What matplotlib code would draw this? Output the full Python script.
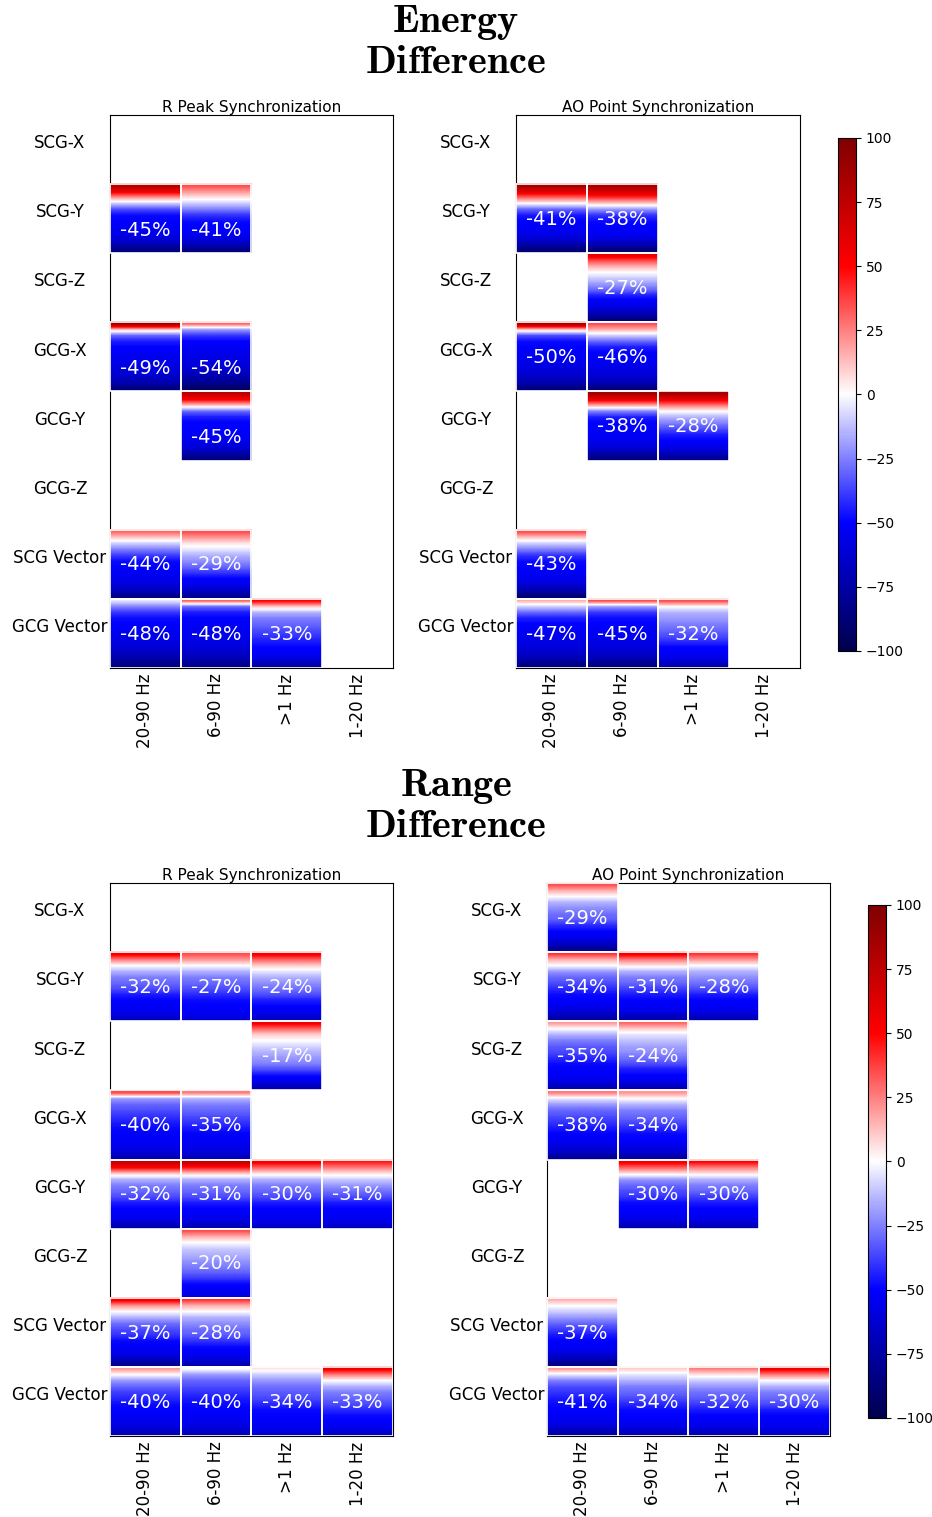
import matplotlib
matplotlib.use('Agg')
import matplotlib.pyplot as plt
import numpy as np
from matplotlib.patches import Rectangle

plt.rcParams['mathtext.fontset'] = 'cm'

# row / column labels
signals = ['SCG-X', 'SCG-Y', 'SCG-Z', 'GCG-X', 'GCG-Y', 'GCG-Z', 'SCG Vector', 'GCG Vector']
bands = ['20-90 Hz', '6-90 Hz', '>1 Hz', '1-20 Hz']

# each cell: (signal, band, median %, sorted differences in %, top -> bottom)
energy_r_peak = [
    ('SCG-Y', '20-90 Hz', -45, [80, 55, 20, -10, -35, -48, -50, -52, -55, -60, -70, -85]),
    ('SCG-Y', '6-90 Hz', -41, [35, 20, 5, -10, -25, -40, -48, -50, -52, -58, -68, -85]),
    ('GCG-X', '20-90 Hz', -49, [90, 10, -30, -45, -50, -52, -55, -57, -60, -65, -72, -85]),
    ('GCG-X', '6-90 Hz', -54, [30, -20, -40, -50, -52, -55, -58, -60, -65, -72, -80, -92]),
    ('GCG-Y', '6-90 Hz', -45, [75, 50, 10, -30, -45, -50, -50, -52, -55, -60, -70, -85]),
    ('SCG Vector', '20-90 Hz', -44, [30, 10, -10, -25, -38, -48, -50, -52, -55, -60, -68, -82]),
    ('SCG Vector', '6-90 Hz', -29, [35, 20, 5, -5, -15, -22, -30, -40, -50, -55, -65, -80]),
    ('GCG Vector', '20-90 Hz', -48, [-5, -25, -40, -48, -50, -52, -55, -58, -62, -68, -75, -85]),
    ('GCG Vector', '6-90 Hz', -48, [30, -30, -45, -50, -52, -53, -55, -57, -60, -65, -72, -82]),
    ('GCG Vector', '>1 Hz', -33, [50, 10, -15, -25, -30, -35, -40, -45, -50, -52, -60, -75]),
]

energy_ao = [
    ('SCG-Y', '20-90 Hz', -41, [85, 60, 30, 0, -30, -45, -50, -52, -55, -62, -72, -88]),
    ('SCG-Y', '6-90 Hz', -38, [85, 65, 40, 10, -20, -40, -48, -50, -52, -58, -70, -88]),
    ('SCG-Z', '6-90 Hz', -27, [60, 35, 15, 0, -10, -20, -30, -45, -52, -58, -70, -85]),
    ('GCG-X', '20-90 Hz', -50, [85, 10, -35, -48, -50, -52, -55, -57, -60, -65, -72, -85]),
    ('GCG-X', '6-90 Hz', -46, [35, 15, -10, -30, -45, -50, -52, -55, -58, -62, -70, -85]),
    ('GCG-Y', '6-90 Hz', -38, [85, 55, 15, -25, -45, -50, -50, -52, -55, -60, -70, -85]),
    ('GCG-Y', '>1 Hz', -28, [85, 55, 25, 0, -15, -25, -35, -45, -50, -55, -65, -80]),
    ('SCG Vector', '20-90 Hz', -43, [35, 10, -10, -25, -40, -48, -50, -52, -55, -62, -72, -88]),
    ('GCG Vector', '20-90 Hz', -47, [15, -10, -30, -45, -50, -52, -55, -57, -60, -65, -72, -85]),
    ('GCG Vector', '6-90 Hz', -45, [35, -20, -40, -48, -50, -52, -54, -56, -60, -65, -72, -85]),
    ('GCG Vector', '>1 Hz', -32, [35, 0, -15, -20, -25, -30, -35, -42, -50, -52, -58, -72]),
]

range_r_peak = [
    ('SCG-Y', '20-90 Hz', -32, [55, 25, 0, -15, -25, -30, -35, -45, -50, -52, -55, -65]),
    ('SCG-Y', '6-90 Hz', -27, [35, 20, 0, -15, -25, -30, -35, -42, -48, -50, -52, -60]),
    ('SCG-Y', '>1 Hz', -24, [55, 30, 10, -5, -15, -22, -28, -35, -45, -50, -55, -65]),
    ('SCG-Z', '>1 Hz', -17, [55, 30, 10, 0, -8, -15, -20, -25, -35, -48, -55, -70]),
    ('GCG-X', '20-90 Hz', -40, [35, -20, -30, -35, -40, -45, -48, -50, -52, -55, -60, -70]),
    ('GCG-X', '6-90 Hz', -35, [25, -15, -25, -30, -35, -40, -45, -50, -52, -55, -60, -68]),
    ('GCG-Y', '20-90 Hz', -32, [75, 50, 10, -15, -25, -30, -35, -45, -50, -52, -58, -72]),
    ('GCG-Y', '6-90 Hz', -31, [75, 45, 10, -15, -25, -30, -35, -45, -50, -52, -58, -70]),
    ('GCG-Y', '>1 Hz', -30, [55, 30, 5, -15, -25, -30, -35, -45, -50, -52, -55, -65]),
    ('GCG-Y', '1-20 Hz', -31, [45, 25, 5, -10, -20, -28, -35, -45, -50, -52, -55, -65]),
    ('GCG-Z', '6-90 Hz', -20, [35, 15, 0, -10, -15, -20, -25, -30, -38, -48, -52, -58]),
    ('SCG Vector', '20-90 Hz', -37, [55, 20, 0, -15, -28, -35, -40, -48, -52, -55, -65, -80]),
    ('SCG Vector', '6-90 Hz', -28, [40, 15, 0, -15, -22, -28, -32, -40, -48, -52, -58, -70]),
    ('GCG Vector', '20-90 Hz', -40, [20, 0, -20, -30, -38, -42, -48, -50, -52, -55, -60, -70]),
    ('GCG Vector', '6-90 Hz', -40, [0, -20, -30, -35, -40, -45, -48, -50, -52, -55, -60, -68]),
    ('GCG Vector', '>1 Hz', -34, [5, -10, -20, -28, -32, -36, -42, -48, -50, -52, -55, -62]),
    ('GCG Vector', '1-20 Hz', -33, [55, 25, 0, -15, -25, -30, -35, -42, -48, -50, -55, -65]),
]

range_ao = [
    ('SCG-X', '20-90 Hz', -29, [35, 15, 0, -15, -22, -28, -32, -42, -50, -55, -65, -80]),
    ('SCG-Y', '20-90 Hz', -34, [40, 15, 0, -20, -30, -35, -42, -48, -50, -55, -62, -75]),
    ('SCG-Y', '6-90 Hz', -31, [55, 25, 5, -15, -25, -30, -38, -45, -50, -52, -58, -72]),
    ('SCG-Y', '>1 Hz', -28, [40, 20, 0, -15, -22, -28, -35, -45, -50, -52, -58, -70]),
    ('SCG-Z', '20-90 Hz', -35, [20, 0, -15, -25, -32, -36, -42, -48, -50, -52, -58, -70]),
    ('SCG-Z', '6-90 Hz', -24, [30, 10, -5, -12, -18, -22, -28, -35, -45, -50, -55, -70]),
    ('GCG-X', '20-90 Hz', -38, [25, -5, -20, -30, -35, -40, -45, -50, -52, -58, -65, -78]),
    ('GCG-X', '6-90 Hz', -34, [20, 0, -15, -25, -30, -35, -42, -48, -50, -55, -62, -75]),
    ('GCG-Y', '6-90 Hz', -30, [55, 30, 5, -20, -30, -35, -40, -48, -50, -52, -58, -70]),
    ('GCG-Y', '>1 Hz', -30, [50, 25, 5, -15, -25, -30, -38, -45, -50, -52, -58, -70]),
    ('SCG Vector', '20-90 Hz', -37, [15, 0, -10, -20, -30, -38, -45, -50, -52, -58, -68, -82]),
    ('GCG Vector', '20-90 Hz', -41, [20, -5, -25, -35, -40, -45, -48, -50, -52, -55, -62, -75]),
    ('GCG Vector', '6-90 Hz', -34, [10, -5, -15, -25, -30, -35, -42, -48, -50, -52, -58, -70]),
    ('GCG Vector', '>1 Hz', -32, [25, 5, -10, -20, -28, -32, -38, -45, -50, -52, -58, -70]),
    ('GCG Vector', '1-20 Hz', -30, [55, 25, 0, -15, -25, -30, -35, -45, -50, -52, -55, -65]),
]


# draws one grid of cells, every cell is a strip of the sorted values
def draw_panel(ax, cells, title, low_rows=()):
    for sig, band, med, vals in cells:
        i = signals.index(sig)
        j = bands.index(band)
        col = np.array(vals, dtype=float).reshape(-1, 1)
        ax.imshow(col, cmap='seismic', vmin=-100, vmax=100, aspect='auto',
                  interpolation='bilinear', extent=[j, j + 1, i + 1, i], zorder=3)
        ax.add_patch(Rectangle((j, i), 1, 1, fill=False, edgecolor='white',
                               linewidth=1.2, zorder=4))
        # some labels sit a bit lower in the original
        ty = i + 0.67 if sig in low_rows else i + 0.51
        ax.text(j + 0.5, ty, str(med) + '%', color='white', fontsize=14,
                ha='center', va='center', zorder=5)
    ax.set_xlim(0, 4)
    ax.set_ylim(8, 0)
    ax.set_xticks(np.arange(4) + 0.5)
    ax.set_xticklabels(bands, rotation=90, fontsize=12)
    ax.set_yticks(np.arange(8) + 0.38)
    ax.set_yticklabels(signals, fontsize=12, ha='center')
    ax.tick_params(axis='x', length=0, pad=4)
    ax.tick_params(axis='y', length=0, pad=36)
    ax.set_title(title, fontsize=11, pad=2)


fig = plt.figure(figsize=(9.32, 15.17), dpi=100)

# energy block
ax1 = fig.add_axes([0.1180, 0.5597, 0.3036, 0.3645])
ax2 = fig.add_axes([0.5536, 0.5597, 0.3047, 0.3645])
cax1 = fig.add_axes([0.8991, 0.5709, 0.0193, 0.3382])
draw_panel(ax1, energy_r_peak, 'R Peak Synchronization', low_rows=('SCG-Y', 'GCG-X', 'GCG-Y'))
draw_panel(ax2, energy_ao, 'AO Point Synchronization')

# range block
ax3 = fig.add_axes([0.1180, 0.0534, 0.3036, 0.3645])
ax4 = fig.add_axes([0.5869, 0.0534, 0.3036, 0.3645])
cax2 = fig.add_axes([0.9313, 0.0653, 0.0193, 0.3382])
draw_panel(ax3, range_r_peak, 'R Peak Synchronization')
draw_panel(ax4, range_ao, 'AO Point Synchronization')

sm = plt.cm.ScalarMappable(cmap='seismic', norm=plt.Normalize(-100, 100))
for cax in [cax1, cax2]:
    cb = fig.colorbar(sm, cax=cax, ticks=np.arange(-100, 101, 25))
    cb.ax.tick_params(labelsize=10)

fig.text(0.489, 0.9723, r'$\mathbf{Energy}$' + '\n' + r'$\mathbf{Difference}$',
         ha='center', va='center', fontsize=29, linespacing=1.0)
fig.text(0.489, 0.4687, r'$\mathbf{Range}$' + '\n' + r'$\mathbf{Difference}$',
         ha='center', va='center', fontsize=29, linespacing=1.0)

fig.savefig('out.png', dpi=100)
